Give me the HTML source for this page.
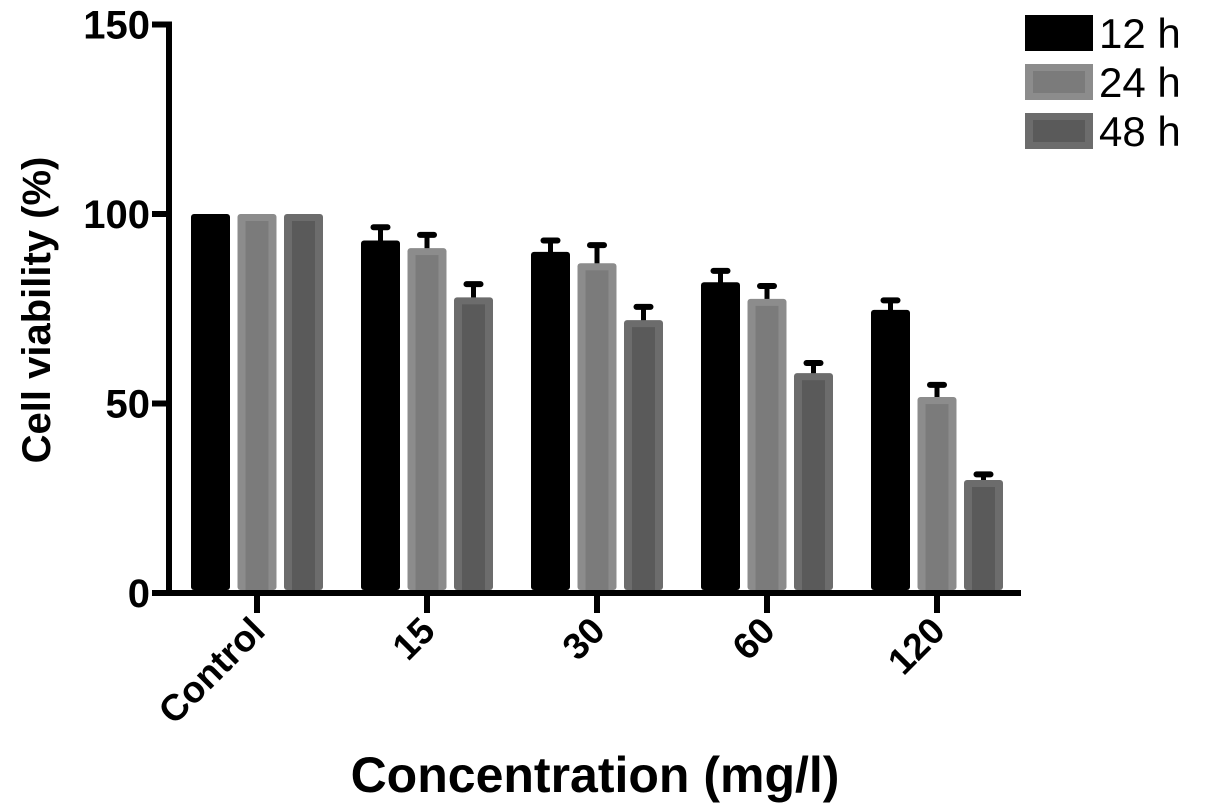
<!DOCTYPE html>
<html><head><meta charset="utf-8"><style>
body{margin:0;background:#fff;}
svg{display:block;font-family:"Liberation Sans",Arial,sans-serif;}
</style></head><body>
<svg id="chart" width="1205" height="811">
<g id="plot"></g>
<text x="50" y="310" transform="rotate(-90 50 310)" text-anchor="middle" font-size="40" font-weight="bold">Cell viability (%)</text>
<text x="595" y="792" text-anchor="middle" font-size="50" font-weight="bold">Concentration (mg/l)</text>
</svg>
<script>
const categories=["Control","15","30","60","120"];
const seriesNames=["12 h","24 h","48 h"];
const values12=[100,93,90,82,74.7];
const values24=[100,91,87,77.6,51.7];
const values48=[100,78,72,58,29.8];
const err12=[0,3.5,3,3,2.5];
const err24=[0,3.5,4.8,3.4,3.2];
const err48=[0,3.5,3.5,2.7,1.5];
const yTicks=[0,50,100,150];

const NS="http://www.w3.org/2000/svg";
const plot=document.getElementById('plot');
const svg=document.getElementById('chart');
const y0=593,pxPer=3.79;
function yScale(v){return y0-v*pxPer;}
function groupX(i){return 191+i*170;}
function mk(tag,attrs,parent){const e=document.createElementNS(NS,tag);for(const k in attrs)e.setAttribute(k,attrs[k]);(parent||plot).appendChild(e);return e;}
const fills=[["#000","#000"],["#8c8c8c","#7b7b7b"],["#6c6c6c","#5a5a5a"]];
const series=[values12,values24,values48];
const errs=[err12,err24,err48];
categories.forEach((c,i)=>{
  series.forEach((vals,s)=>{
    const x=groupX(i)+s*46.5,w=39,top=yScale(vals[i]);
    const e=errs[s][i];
    if(e>0){
      const et=yScale(vals[i]+e);
      const l=mk('line',{x1:x+w/2,x2:x+w/2,y1:et,y2:top+6,stroke:"#000","stroke-width":5});
      
      
      const cap=mk('rect',{x:x+w/2-10,y:et-3,width:20,height:6,rx:3,fill:"#000"});
      
      
    }
    const r=mk('rect',{x:x,y:top,width:w,height:y0-3-top,rx:3,fill:fills[s][0]});
    
    
    if(s>0){const inn=mk('rect',{x:x+8,y:top+7,width:w-16,height:y0-3-top-7,fill:fills[s][1]});
      
      }
  });
  const tx=groupX(i)+66;
  const t=mk('line',{x1:tx,x2:tx,y1:y0,y2:y0+20,stroke:"#000","stroke-width":6});
  
  
  const lb=mk('text',{x:tx+10,y:y0+40,transform:`rotate(-45 ${tx+10} ${y0+40})`,"text-anchor":"end","font-size":37,"font-weight":"bold"});
  lb.textContent=c;
  
  
});
const ax=mk('line',{x1:169,x2:1021,y1:y0,y2:y0,stroke:"#000","stroke-width":6});


const ay=mk('line',{x1:169,x2:169,y1:yScale(150)-3,y2:y0+3,stroke:"#000","stroke-width":6});


yTicks.forEach(v=>{
  const t=mk('line',{x1:152,x2:169,y1:yScale(v),y2:yScale(v),stroke:"#000","stroke-width":6});
  
  
  const l=mk('text',{x:150,y:yScale(v)+14,"text-anchor":"end","font-size":40,"font-weight":"bold"});
  l.textContent=v;
  
  
});
seriesNames.forEach((n,s)=>{
  const yy=15+s*49;
  const sw=mk('rect',{x:1025,y:yy,width:68,height:36,fill:fills[s][0]},svg);
  
  
  if(s>0){const inn=mk('rect',{x:1033,y:yy+7,width:52,height:22,fill:fills[s][1]},svg);
    
    }
  const t=mk('text',{x:1099,y:yy+33,"font-size":42},svg);
  t.textContent=n;
  
  
});
</script>
</body></html>
